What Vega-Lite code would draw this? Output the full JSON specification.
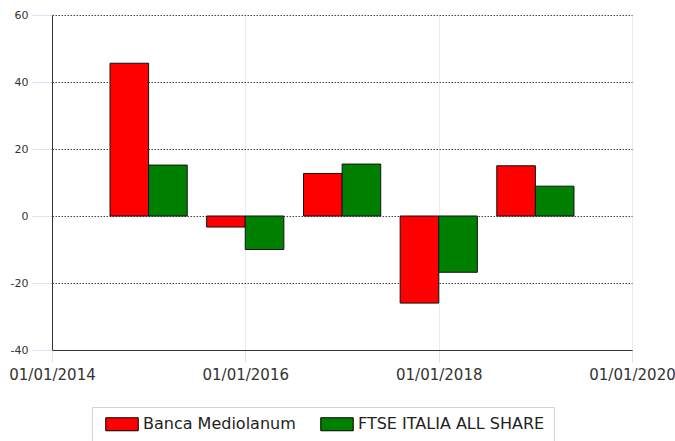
{
  "$schema": "https://vega.github.io/schema/vega-lite/v6.json",
  "width": 580,
  "height": 335,
  "autosize": "none",
  "padding": {"left": 52, "top": 15, "right": 43, "bottom": 91},
  "background": "white",
  "data": {
    "values": [
      {"date": "2015-01-01", "series": "Banca Mediolanum", "value": 45.6},
      {"date": "2015-01-01", "series": "FTSE ITALIA ALL SHARE", "value": 15.2},
      {"date": "2016-01-01", "series": "Banca Mediolanum", "value": -3.3},
      {"date": "2016-01-01", "series": "FTSE ITALIA ALL SHARE", "value": -10.0},
      {"date": "2017-01-01", "series": "Banca Mediolanum", "value": 12.7},
      {"date": "2017-01-01", "series": "FTSE ITALIA ALL SHARE", "value": 15.5},
      {"date": "2018-01-01", "series": "Banca Mediolanum", "value": -26.0},
      {"date": "2018-01-01", "series": "FTSE ITALIA ALL SHARE", "value": -16.8},
      {"date": "2019-01-01", "series": "Banca Mediolanum", "value": 15.0},
      {"date": "2019-01-01", "series": "FTSE ITALIA ALL SHARE", "value": 8.9}
    ]
  },
  "encoding": {
    "x": {
      "field": "date",
      "type": "temporal",
      "scale": {"type": "utc", "domain": ["2014-01-01", "2020-01-01"], "nice": false, "padding": 0},
      "axis": {
        "title": null,
        "values": ["2014-01-01", "2016-01-01", "2018-01-01", "2020-01-01"],
        "format": "%d/%m/%Y",
        "labelFont": "DejaVu Sans",
        "labelFontSize": 15,
        "labelColor": "#333333",
        "labelPadding": 5,
        "labelFlush": false,
        "labelOverlap": false,
        "tickSize": 12,
        "tickColor": "#d6e4f5",
        "domainColor": "#333333",
        "grid": true,
        "gridColor": "#c9dbf2",
        "gridDash": [1, 1],
        "zindex": 0
      }
    },
    "y": {
      "field": "value",
      "type": "quantitative",
      "scale": {"domain": [-40, 60], "nice": false},
      "axis": {
        "title": null,
        "values": [-40, -20, 0, 20, 40, 60],
        "labelExpr": "datum.value < 0 ? '-' + abs(datum.value) : '' + datum.value",
        "labelFont": "DejaVu Sans",
        "labelFontSize": 11,
        "labelColor": "#333333",
        "labelPadding": 4,
        "tickSize": 20,
        "tickColor": "#d6e4f5",
        "domainColor": "#333333",
        "grid": true,
        "gridColor": "#444444",
        "gridDash": [1.5, 1.5],
        "zindex": 0
      }
    },
    "color": {
      "field": "series",
      "type": "nominal",
      "scale": {"domain": ["Banca Mediolanum", "FTSE ITALIA ALL SHARE"], "range": ["#ff0000", "#008000"]},
      "legend": {
        "title": null,
        "orient": "none",
        "legendX": 40,
        "legendY": 392,
        "direction": "horizontal",
        "strokeColor": "#d4d4d4",
        "fillColor": "white",
        "padding": 9,
        "symbolType": "M-2.5,-1H2.5V1H-2.5Z",
        "symbolSize": 169,
        "symbolOffset": 13,
        "symbolStrokeColor": "black",
        "symbolStrokeWidth": 1,
        "labelFont": "DejaVu Sans",
        "labelFontSize": 16,
        "labelColor": "#222222",
        "labelOffset": 13,
        "labelExpr": "datum.value === 'FTSE ITALIA ALL SHARE' ? datum.label + '      ' : datum.label",
        "columnPadding": 20,
        "labelLimit": 300
      }
    }
  },
  "layer": [
    {
      "transform": [{"filter": "datum.series === 'Banca Mediolanum'"}],
      "mark": {"type": "bar", "size": 38.6, "xOffset": -19.3, "stroke": "#111111", "strokeWidth": 1, "opacity": 1}
    },
    {
      "transform": [{"filter": "datum.series === 'FTSE ITALIA ALL SHARE'"}],
      "mark": {"type": "bar", "size": 38.6, "xOffset": 19.3, "stroke": "#111111", "strokeWidth": 1, "opacity": 1}
    }
  ],
  "config": {
    "view": {"stroke": null}
  }
}
